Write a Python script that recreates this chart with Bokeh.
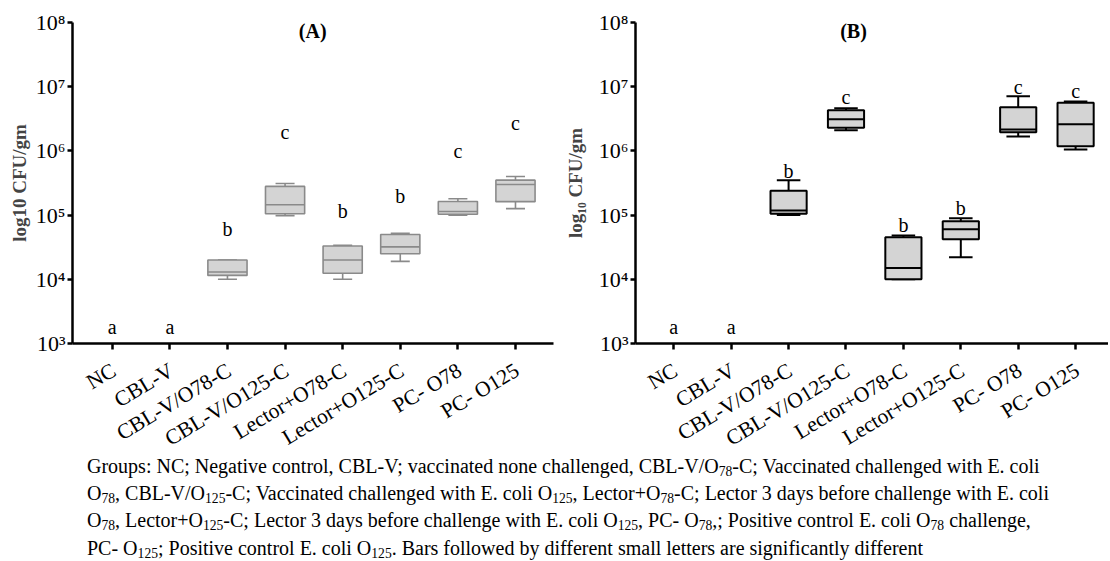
import numpy as np
from bokeh.plotting import figure
from bokeh.models import FixedTicker, Range1d, Label, Div, LinearAxis
from bokeh.layouts import row, column
from bokeh.embed import file_html
from bokeh.resources import INLINE
from bokeh.core.properties import value

groups = ["NC", "CBL-V", "CBL-V/O78-C", "CBL-V/O125-C",
          "Lector+O78-C", "Lector+O125-C", "PC- O78", "PC- O125"]
nan = float("nan")

# Panel A box statistics (CFU/gm); NC and CBL-V have no boxes
A_wlo = [nan, nan, 1.0e4, 9.8e4, 1.0e4, 1.9e4, 1.00e5, 1.26e5]
A_q1 = [nan, nan, 1.15e4, 1.05e5, 1.24e4, 2.5e4, 1.03e5, 1.62e5]
A_med = [nan, nan, 1.3e4, 1.45e5, 2.0e4, 3.2e4, 1.14e5, 3.0e5]
A_q3 = [nan, nan, 2.0e4, 2.8e5, 3.3e4, 5.0e4, 1.63e5, 3.5e5]
A_whi = [nan, nan, 2.0e4, 3.1e5, 3.4e4, 5.2e4, 1.80e5, 4.0e5]
A_letters = ["a", "a", "b", "c", "b", "b", "c", "c"]
A_letter_y = [1.8e3, 1.8e3, 6.0e4, 1.95e6, 1.15e5, 1.95e5, 9.8e5, 2.7e6]

# Panel B box statistics (CFU/gm)
B_wlo = [nan, nan, 1.0e5, 2.1e6, 1.0e4, 2.2e4, 1.67e6, 1.05e6]
B_q1 = [nan, nan, 1.05e5, 2.3e6, 1.0e4, 4.2e4, 1.95e6, 1.18e6]
B_med = [nan, nan, 1.18e5, 3.1e6, 1.5e4, 6.0e4, 2.15e6, 2.6e6]
B_q3 = [nan, nan, 2.4e5, 4.3e6, 4.5e4, 8.0e4, 4.8e6, 5.6e6]
B_whi = [nan, nan, 3.5e5, 4.6e6, 4.8e4, 8.9e4, 7.1e6, 5.9e6]
B_letters = ["a", "a", "b", "c", "b", "b", "c", "c"]
B_letter_y = [1.8e3, 1.8e3, 4.9e5, 6.8e6, 6.9e4, 1.3e5, 9.8e6, 8.7e6]

y_ticks = [10**3, 10**4, 10**5, 10**6, 10**7, 10**8]
y_tick_labels = ["10³", "10⁴", "10⁵", "10⁶", "10⁷", "10⁸"]

SERIF = "Liberation Serif"


def make_panel(title, title_x, ylabel, wlo, q1, med, q3, whi, letters, letter_y,
               width, border_left, border_right, x_start, x_end,
               box_w, cap_w, line_color, line_w, label_standoff):
    p = figure(width=width, height=480, output_backend="svg", toolbar_location=None,
               y_axis_type="log", x_range=Range1d(x_start, x_end),
               y_range=Range1d(1e3, 1e8), x_axis_location=None,
               min_border_left=border_left, min_border_right=border_right,
               min_border_top=22, min_border_bottom=137)
    p.outline_line_color = None
    p.xgrid.visible = False
    p.ygrid.visible = False
    p.background_fill_color = "white"
    p.border_fill_color = None

    x = np.arange(1, len(groups) + 1, dtype=float)
    wlo = np.array(wlo); q1 = np.array(q1); med = np.array(med)
    q3 = np.array(q3); whi = np.array(whi)

    # whiskers
    p.segment(x, q3, x, whi, line_color=line_color, line_width=line_w)
    p.segment(x, q1, x, wlo, line_color=line_color, line_width=line_w)
    p.segment(x - cap_w / 2, whi, x + cap_w / 2, whi, line_color=line_color, line_width=line_w)
    p.segment(x - cap_w / 2, wlo, x + cap_w / 2, wlo, line_color=line_color, line_width=line_w)
    # boxes
    p.vbar(x=x, width=box_w, bottom=q1, top=q3, fill_color="#d4d4d4",
           line_color=line_color, line_width=line_w)
    p.segment(x - box_w / 2, med, x + box_w / 2, med, line_color=line_color, line_width=line_w)

    # significance letters
    p.text(x=x, y=letter_y, text=letters, text_align="center", text_baseline="middle",
           text_font=value(SERIF), text_font_size="20px", text_color="black")

    # panel title
    p.add_layout(Label(x=title_x, y=1e8, text=title, text_align="center",
                       text_baseline="top", y_offset=3, text_font=SERIF,
                       text_font_size="20px", text_font_style="bold", text_color="black"))

    # y axis
    ya = p.yaxis[0]
    ya.axis_line_width = 2.5
    ya.major_tick_line_width = 2.5
    ya.major_tick_in = 0
    ya.major_tick_out = 5
    ya.minor_tick_line_color = None
    ya.ticker = FixedTicker(ticks=y_ticks)
    ya.major_label_overrides = dict(zip(y_ticks, y_tick_labels))
    ya.major_label_standoff = 2
    ya.major_label_text_font = SERIF
    ya.major_label_text_font_size = "22px"
    ya.major_label_text_color = "black"
    ya.axis_label = ylabel
    ya.axis_label_text_font = SERIF
    ya.axis_label_text_font_style = "bold"
    ya.axis_label_text_font_size = "19px"
    ya.axis_label_standoff = label_standoff

    cat_ticks = list(range(1, len(groups) + 1))
    # x axis line and tick marks at each category
    xa = LinearAxis(ticker=FixedTicker(ticks=cat_ticks),
                    major_label_overrides={t: "" for t in cat_ticks},
                    axis_line_width=2.5, major_tick_line_width=2.5,
                    major_tick_in=0, major_tick_out=6,
                    minor_tick_line_color=None, major_label_standoff=0,
                    major_label_text_font_size="0px")
    p.add_layout(xa, "below")
    # slanted category names (label axis nudged so each name ends at its tick)
    nudge = 0.03
    p.extra_x_ranges = {"names": Range1d(x_start - nudge, x_end - nudge)}
    xl = LinearAxis(x_range_name="names", ticker=FixedTicker(ticks=cat_ticks),
                    major_label_overrides={i + 1: g for i, g in enumerate(groups)},
                    axis_line_color=None, major_tick_line_color=None,
                    minor_tick_line_color=None, major_tick_in=0, major_tick_out=0,
                    major_label_orientation=0.54, major_label_standoff=19,
                    major_label_text_font=SERIF, major_label_text_font_size="21.5px",
                    major_label_text_color="black")
    p.add_layout(xl, "below")
    return p


pA = make_panel("(A)", 4.48, "log10 CFU/gm", A_wlo, A_q1, A_med, A_q3, A_whi, A_letters, A_letter_y,
                width=556, border_left=72, border_right=3, x_start=0.31, x_end=8.66,
                box_w=0.68, cap_w=0.33, line_color="#8a8a8a", line_w=1.6, label_standoff=3)
pB = make_panel("(B)", 4.13, "log₁₀ CFU/gm", B_wlo, B_q1, B_med, B_q3, B_whi, B_letters, B_letter_y,
                width=552, border_left=79, border_right=0, x_start=0.333, x_end=8.573,
                box_w=0.63, cap_w=0.41, line_color="black", line_w=2.0, label_standoff=10)

sub = '<span style="font-size:68%;vertical-align:-0.2em;line-height:0">{}</span>'
O78 = "O" + sub.format("78")
O125 = "O" + sub.format("125")
caption_lines = [
    f"Groups: NC; Negative control, CBL-V; vaccinated none challenged, CBL-V/{O78}-C; Vaccinated challenged with E. coli",
    f"{O78}, CBL-V/{O125}-C; Vaccinated challenged with E. coli {O125}, Lector+{O78}-C; Lector 3 days before challenge with E. coli",
    f"{O78}, Lector+{O125}-C; Lector 3 days before challenge with E. coli {O125}, PC- {O78},; Positive control E. coli {O78} challenge,",
    f"PC- {O125}; Positive control E. coli {O125}. Bars followed by different small letters are significantly different",
]
caption_html = ('<div style="font-family:\'Liberation Serif\';font-size:20px;line-height:27.2px;'
                'color:black;white-space:nowrap;padding-left:87px;padding-top:3px;">'
                + "<br>".join(caption_lines) + "</div>")
# the plots' lower borders are blank below the slanted names, so the caption is pulled up over them
caption = Div(text=caption_html, width=1100, height=111, margin=(-30, 0, 0, 0))

layout = column(row(pA, pB), caption)
open("out.html", "w").write(file_html(layout, INLINE))
